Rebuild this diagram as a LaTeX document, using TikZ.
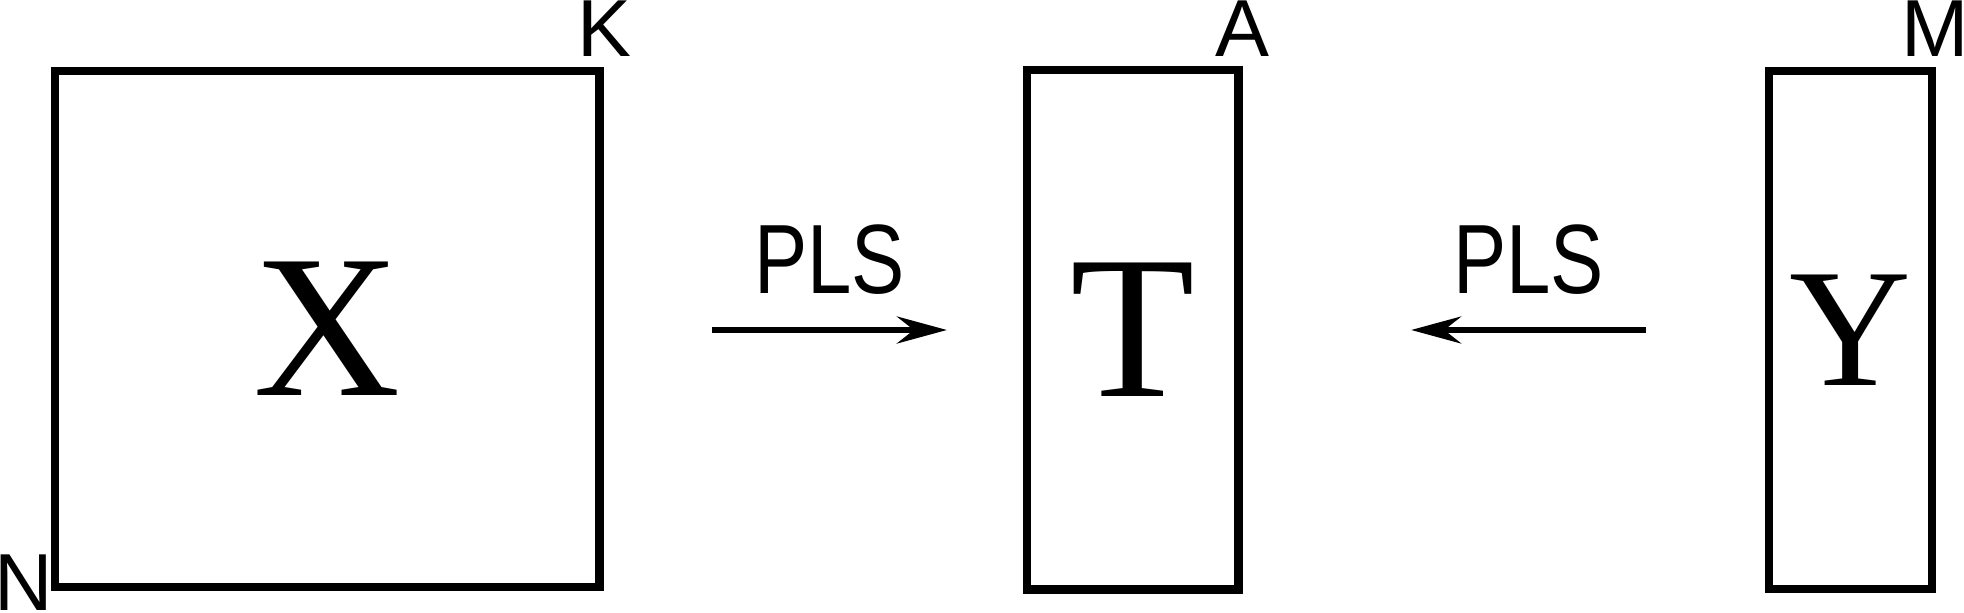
\documentclass[tikz,border=0pt]{standalone}
\usepackage{fontspec}
\setmainfont{Liberation Serif}
\setsansfont{Liberation Sans}
\newfontfamily\narrowsans[FakeStretch=0.81]{Liberation Sans}
\usepackage{tikz}
\usetikzlibrary{arrows.meta, positioning}

\begin{document}
\begin{tikzpicture}[
		x=0.01cm, y=-0.01cm,
		box/.style={
			draw,
			line width=2.4pt,
			inner sep=0pt,
			outer sep=0pt,
			font=\fontsize{58}{58}\selectfont
		},
		tag/.style={
			inner sep=0pt,
			font=\sffamily\fontsize{23}{23}\selectfont
		},
		plstag/.style={
			inner sep=0pt,
			font=\narrowsans\fontsize{28}{28}\selectfont
		},
		arrow/.style={-{Stealth[length=0.5cm, width=0.27cm, inset=0.17cm]}, line width=1.7pt}
		]
		
		\useasboundingbox (0,0) rectangle (1964,612);
		
		\node[box, minimum width=5.445cm, minimum height=5.16cm] (xblock) at (327.25,329) {X};
		\node[box, minimum width=2.115cm, minimum height=5.195cm] (tblock) at (1132.75,329.75) {T};
		\node[box, minimum width=1.63cm, minimum height=5.18cm, font=\fontsize{48}{48}\selectfont] (yblock) at (1850.5,330) {Y};
		
		\node[tag, anchor=base west] (klabel) at ([xshift=-0.225cm, yshift=0.14cm]xblock.north east) {K};
		\node[tag, anchor=base west] (nlabel) at ([xshift=-0.61cm, yshift=-0.23cm]xblock.south west) {N};
		\node[tag, anchor=base west] (alabel) at ([xshift=-0.235cm, yshift=0.13cm]tblock.north east) {A};
		\node[tag, anchor=base west] (mlabel) at ([xshift=-0.31cm, yshift=0.14cm]yblock.north east) {M};
		
		\coordinate (ltail) at ([xshift=1.125cm, yshift=-0.01cm]xblock.east);
		\coordinate (lhead) at ([xshift=-0.8cm, yshift=-0.01cm]xblock.east -| tblock.west);
		\coordinate (rtail) at ([xshift=-1.23cm]yblock.west);
		\coordinate (rhead) at ([xshift=1.725cm]yblock.west -| tblock.east);
		
		\draw[arrow] (ltail) -- node[plstag, above=0.33cm] (lpls) {PLS} (lhead);
		\draw[arrow] (rtail) -- node[plstag, above=0.33cm] (rpls) {PLS} (rhead);
		
	\end{tikzpicture}
\end{document}
